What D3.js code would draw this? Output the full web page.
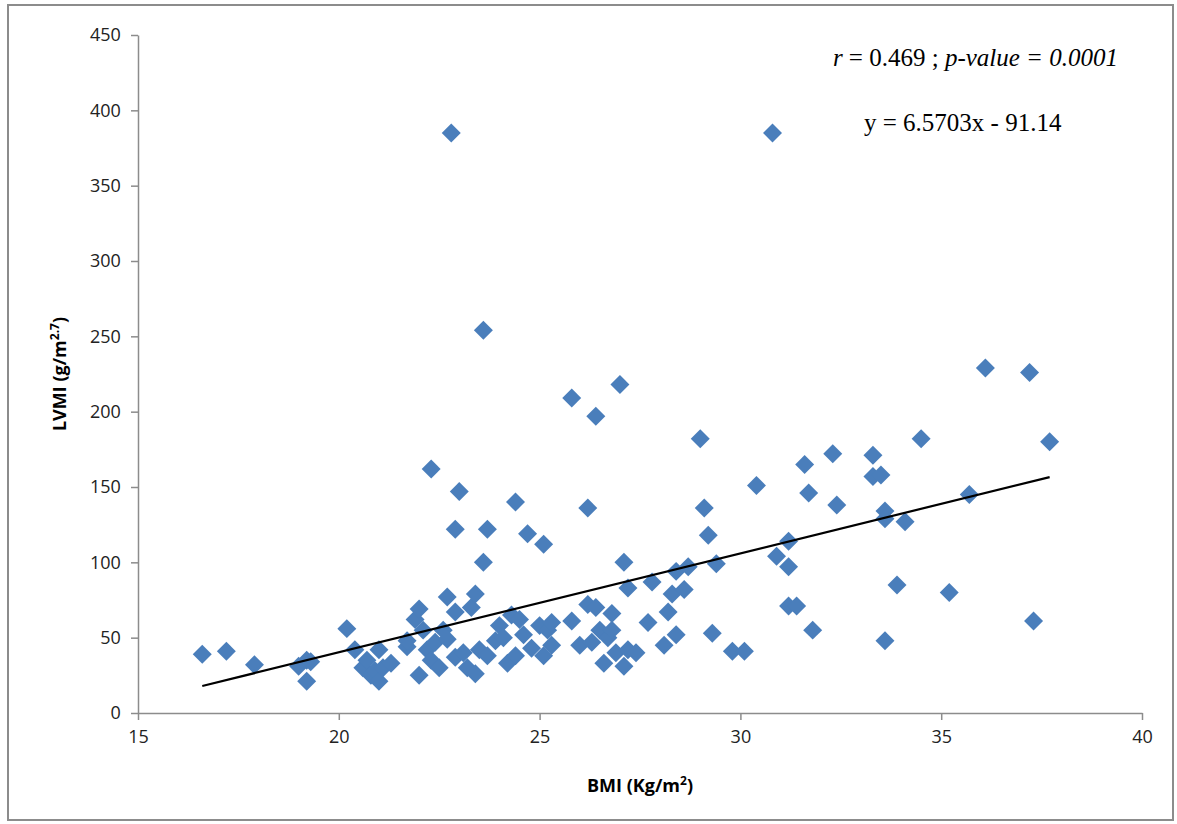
<!DOCTYPE html>
<html><head><meta charset="utf-8">
<script src="https://cdn.jsdelivr.net/npm/d3@7"></script>
<style>body{margin:0;background:#fff}</style>
</head><body>
<svg id="chart" width="1177" height="824"></svg>
<script>
// BMI vs LVMI readings
const bmi = [16.6,17.2,17.9,19.0,19.2,19.2,19.3,20.2,20.4,20.6,20.7,20.8,20.9,21.0,21.0,21.1,21.3,21.7,21.7,21.9,22.0,22.0,22.1,22.2,22.3,22.3,22.4,22.5,22.6,22.7,22.7,22.8,22.9,22.9,22.9,23.0,23.1,23.2,23.3,23.4,23.4,23.5,23.6,23.6,23.7,23.7,23.9,24.0,24.1,24.2,24.3,24.4,24.4,24.5,24.6,24.7,24.8,25.0,25.1,25.1,25.2,25.3,25.3,25.8,25.8,26.0,26.2,26.2,26.3,26.4,26.4,26.5,26.6,26.7,26.8,26.8,26.9,27.0,27.1,27.1,27.2,27.2,27.4,27.7,27.8,28.1,28.2,28.3,28.4,28.4,28.6,28.7,29.0,29.1,29.2,29.3,29.4,29.8,30.1,30.4,30.8,30.9,31.2,31.2,31.2,31.4,31.6,31.7,31.8,32.3,32.4,33.3,33.3,33.5,33.6,33.6,33.6,33.9,34.1,34.5,35.2,35.7,36.1,37.2,37.3,37.7];
const lvmi = [39,41,32,31,35,21,34,56,42,30,35,25,28,42,21,30,33,44,48,62,69,25,55,42,162,35,47,30,55,77,49,385,122,67,37,147,40,30,70,79,26,42,254,100,122,38,48,58,50,33,65,140,38,62,52,119,43,58,112,38,55,45,60,209,61,45,136,72,47,197,70,55,33,50,66,55,40,218,100,31,83,42,40,60,87,45,67,79,94,52,82,97,182,136,118,53,99,41,41,151,385,104,114,97,71,71,165,146,55,172,138,171,157,158,134,129,48,85,127,182,80,145,229,226,61,180];
const slope = 6.5703, intercept = -91.14;
const xTicks = [15,20,25,30,35,40];
const yTicks = [0,50,100,150,200,250,300,350,400,450];

const svg = d3.select("#chart");
const x = d3.scaleLinear().domain([15, 40]).range([138, 1142]);
const y = d3.scaleLinear().domain([0, 450]).range([713, 35]);

// outer frame
svg.append("rect").attr("x", 8).attr("y", 5).attr("width", 1165).attr("height", 815)
  .attr("fill", "none").attr("stroke", "#8c8c8c").attr("stroke-width", 2);

const xAxis = svg.append("g").attr("transform", "translate(0,713)")
  .call(d3.axisBottom(x).tickValues(xTicks).tickSize(7).tickSizeOuter(0));
const yAxis = svg.append("g").attr("transform", "translate(138,0)")
  .call(d3.axisLeft(y).tickValues(yTicks).tickSize(7).tickSizeOuter(0));
[xAxis, yAxis].forEach((g) => {
  g.selectAll("path,line").attr("stroke", "#8c8c8c").attr("stroke-width", 1.5);
  g.selectAll("text").attr("font-family", "'Open Sans', sans-serif")
    .attr("font-size", 18).attr("fill", "#222");
});
xAxis.selectAll("text").attr("dy", "1.1em");
yAxis.selectAll("text").attr("dx", "-0.4em");

// points
const pts = bmi.map((b, i) => ({ b, v: lvmi[i] }));
svg.append("g").selectAll("path").data(pts).join("path")
  .attr("d", d3.symbol(d3.symbolSquare, 180))
  .attr("transform", (d) => `translate(${x(d.b)},${y(d.v)}) rotate(45)`)
  .attr("fill", "#4a7ebb");

// trend line
const x0 = d3.min(bmi), x1 = d3.max(bmi);
svg.append("line")
  .attr("x1", x(x0)).attr("y1", y(slope * x0 + intercept))
  .attr("x2", x(x1)).attr("y2", y(slope * x1 + intercept))
  .attr("stroke", "#000").attr("stroke-width", 2.2);

// axis titles
const xt = svg.append("text").attr("x", 640).attr("y", 792).attr("text-anchor", "middle")
  .attr("font-family", "'Open Sans', sans-serif").attr("font-weight", "bold").attr("font-size", 18);
xt.append("tspan").text("BMI (Kg/m");
xt.append("tspan").attr("font-size", 12).attr("dy", -7).text("2");
xt.append("tspan").attr("dy", 7).text(")");

const yt = svg.append("text").attr("transform", "translate(66,374) rotate(-90)").attr("text-anchor", "middle")
  .attr("font-family", "'Open Sans', sans-serif").attr("font-weight", "bold").attr("font-size", 18);
yt.append("tspan").text("LVMI (g/m");
yt.append("tspan").attr("font-size", 12).attr("dy", -7).text("2.7");
yt.append("tspan").attr("dy", 7).text(")");

// annotation
const ann = svg.append("text").attr("x", 1118).attr("y", 66).attr("text-anchor", "end")
  .attr("font-family", "'Liberation Serif', serif").attr("font-size", 25);
ann.append("tspan").attr("font-style", "italic").text("r");
ann.append("tspan").text(" = 0.469 ; ");
ann.append("tspan").attr("font-style", "italic").text("p-value = 0.0001");
svg.append("text").attr("x", 864).attr("y", 131)
  .attr("font-family", "'Liberation Serif', serif").attr("font-size", 25)
  .text("y = 6.5703x - 91.14");
</script>
</body></html>
